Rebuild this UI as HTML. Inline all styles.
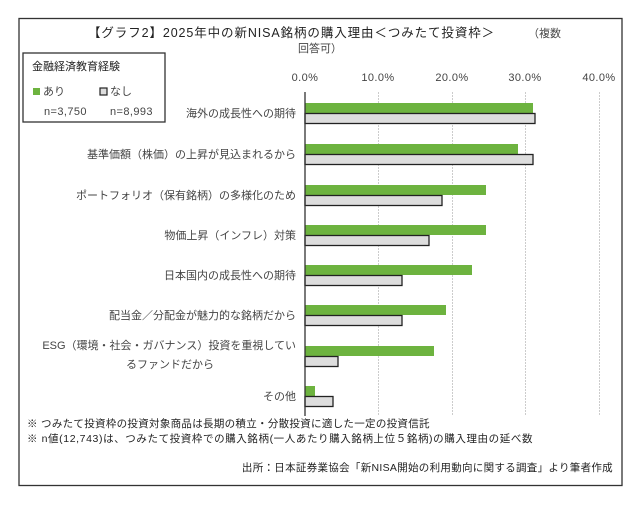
<!DOCTYPE html>
<html><head><meta charset="utf-8"><style>
html,body{margin:0;padding:0;background:#fff;}
svg text{font-family:"Liberation Sans","Noto Sans CJK JP",sans-serif;}
</style></head><body>
<svg width="640" height="500" xmlns="http://www.w3.org/2000/svg">
<rect x="0" y="0" width="640" height="500" fill="#fff"/>
<rect x="19" y="18.5" width="603" height="467" fill="#fff" stroke="#333" stroke-width="1.3"/>
<text x="88" y="37" font-size="12.5" fill="#222" letter-spacing="0.9">【グラフ2】2025年中の新NISA銘柄の購入理由＜つみたて投資枠＞</text>
<text x="528" y="37" font-size="11" fill="#444">（複数</text>
<text x="298" y="52" font-size="11" fill="#444">回答可）</text>
<rect x="23" y="53" width="142" height="69" fill="#fff" stroke="#333" stroke-width="1.3"/>
<text x="32" y="70" font-size="11" fill="#222">金融経済教育経験</text>
<rect x="33" y="88" width="7" height="7" fill="#6db33f"/>
<text x="43" y="95" font-size="11" fill="#444">あり</text>
<rect x="100" y="88" width="7" height="7" fill="#ddd" stroke="#222" stroke-width="1.2"/>
<text x="110" y="95" font-size="11" fill="#444">なし</text>
<text x="44" y="115" font-size="11" fill="#444" letter-spacing="0.4">n=3,750</text>
<text x="110" y="115" font-size="11" fill="#444" letter-spacing="0.4">n=8,993</text>
<g font-size="11" fill="#444" text-anchor="middle" letter-spacing="0.4">
<text x="305" y="81">0.0%</text><text x="378" y="81">10.0%</text><text x="452" y="81">20.0%</text><text x="525" y="81">30.0%</text><text x="599" y="81">40.0%</text>
</g>
<g stroke="#ccc" stroke-dasharray="2,1">
<line x1="378.5" y1="92" x2="378.5" y2="416"/><line x1="452.5" y1="92" x2="452.5" y2="416"/><line x1="525.5" y1="92" x2="525.5" y2="416"/><line x1="599.5" y1="92" x2="599.5" y2="416"/>
</g>
<g fill="#6db33f">
<rect x="305" y="103" width="228" height="10"/>
<rect x="305" y="144" width="213" height="10"/>
<rect x="305" y="185" width="181" height="10"/>
<rect x="305" y="225" width="181" height="10"/>
<rect x="305" y="265" width="167" height="10"/>
<rect x="305" y="305" width="141" height="10"/>
<rect x="305" y="346" width="129" height="10"/>
<rect x="305" y="386" width="10" height="10"/>
</g>
<g fill="#ddd" stroke="#222" stroke-width="1.3">
<rect x="305" y="113.5" width="230" height="10"/>
<rect x="305" y="154.5" width="228" height="10"/>
<rect x="305" y="195.5" width="137" height="10"/>
<rect x="305" y="235.5" width="124" height="10"/>
<rect x="305" y="275.5" width="97" height="10"/>
<rect x="305" y="315.5" width="97" height="10"/>
<rect x="305" y="356.5" width="33" height="10"/>
<rect x="305" y="396.5" width="28" height="10"/>
</g>
<line x1="305" y1="92" x2="305" y2="416" stroke="#333" stroke-width="1.3"/>
<g font-size="11" fill="#444" text-anchor="end">
<text x="296" y="117">海外の成長性への期待</text>
<text x="296" y="158">基準価額（株価）の上昇が見込まれるから</text>
<text x="296" y="199">ポートフォリオ（保有銘柄）の多様化のため</text>
<text x="296" y="239">物価上昇（インフレ）対策</text>
<text x="296" y="279">日本国内の成長性への期待</text>
<text x="296" y="319">配当金／分配金が魅力的な銘柄だから</text>
<text x="296" y="349">ESG（環境・社会・ガバナンス）投資を重視してい</text>
<text x="296" y="400">その他</text>
</g>
<text x="170" y="368" font-size="11" fill="#444" text-anchor="middle">るファンドだから</text>
<text x="27" y="427" font-size="10.5" fill="#222" letter-spacing="0.3">※ つみたて投資枠の投資対象商品は長期の積立・分散投資に適した一定の投資信託</text>
<text x="27" y="442" font-size="10.5" fill="#222" letter-spacing="0.6">※ n値(12,743)は、つみたて投資枠での購入銘柄(一人あたり購入銘柄上位５銘柄)の購入理由の延べ数</text>
<text x="613" y="471" font-size="10.5" fill="#222" text-anchor="end" letter-spacing="0.3">出所：日本証券業協会「新NISA開始の利用動向に関する調査」より筆者作成</text>
</svg>
</body></html>
